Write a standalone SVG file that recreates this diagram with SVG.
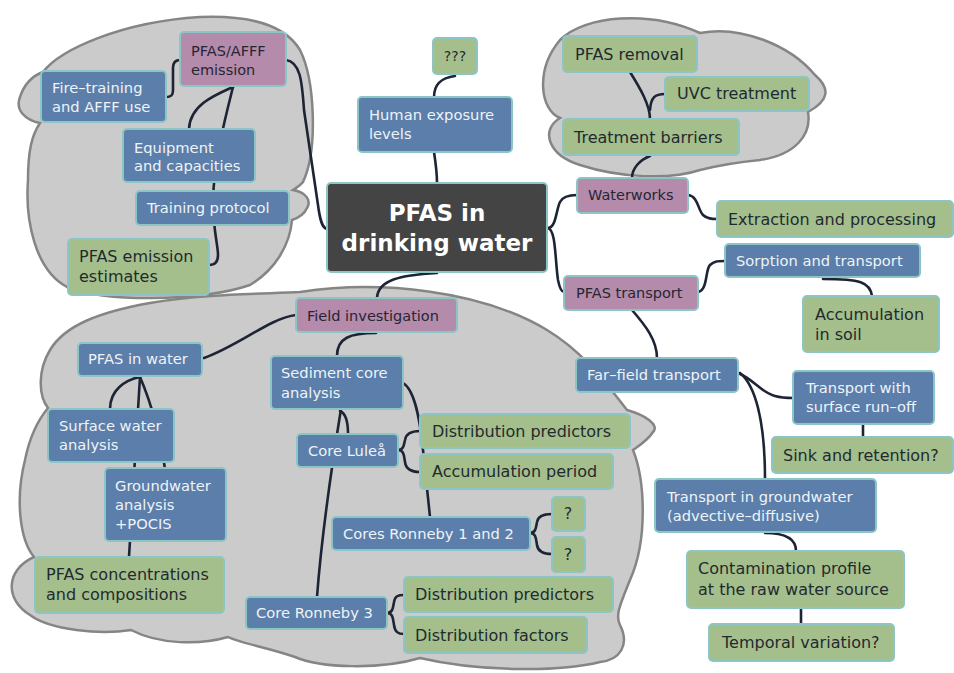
<svg xmlns="http://www.w3.org/2000/svg" width="954" height="673" viewBox="0 0 954 673">
<style>
.cloud{fill:#cbcbcb;stroke:#858585;stroke-width:2.5}
.n rect{stroke:#8cc6c4;stroke-width:2}
.b rect{fill:#5b7eaa}
.g rect{fill:#a5bf8c}
.p rect{fill:#b48bab}
.n text{font-family:"DejaVu Sans",sans-serif}
.b text{fill:#eef3f8;font-size:14.7px}
.g text{fill:#1f2a30;font-size:16px}
.p text{fill:#262633;font-size:14.5px}
.c text{fill:#ffffff;font-size:23px;font-weight:bold;font-family:"DejaVu Sans",sans-serif}
#connectors path{fill:none;stroke:#1d2535;stroke-width:2.6;stroke-linecap:round}
</style>
<rect width="954" height="673" fill="#ffffff"/>
<g id="clouds">
<path class="cloud" d="M43,72 C60,50 120,22 200,17 C250,15 285,25 300,50 C315,80 318,150 303,182 C300,186 296,188 293,190 C305,192 312,200 307,208 C304,215 298,218 292,220 C290,245 275,270 250,285 C200,302 100,302 67,287 C35,270 25,220 28,180 C28,150 32,135 40,123 C25,120 15,110 20,97 C24,85 32,76 43,72 Z"/>
<path class="cloud" d="M560,118 C540,110 535,70 560,40 C585,15 650,10 700,33 C740,25 790,45 815,75 C830,88 830,100 808,112 C812,135 795,155 760,160 C740,162 720,165 700,170 C670,180 620,178 580,165 C548,155 540,130 560,118 Z"/>
<path class="cloud" d="M48,408 C38,395 38,370 50,350 C65,325 100,312 150,303 C200,294 260,294 300,292 C380,280 480,290 547,330 C580,350 600,375 627,410 C645,415 660,425 653,432 C648,440 640,445 633,450 C645,480 648,540 630,580 C620,605 615,615 620,625 C630,645 620,660 600,662 C560,672 480,672 420,658 C380,670 320,668 295,657 C270,648 240,643 228,637 C200,645 160,645 131,630 C100,635 50,630 30,615 C5,600 5,570 34,557 C20,540 15,500 25,460 C30,435 38,420 48,408 Z"/>
</g>
<g id="connectors">
<path d="M286,60 C300,62 302,80 304,110 L318,205 C320,220 322,228 327,229"/>
<path d="M166,97 C174,97 173,92 173,85 L173,68 C173,62 176,60 180,60"/>
<path d="M233,87 C215,95 190,105 189,129"/>
<path d="M233,87 C226,115 214,160 213,200"/>
<path d="M213,200 C213,230 218,245 218,255 C218,263 214,265 209,265"/>
<path d="M434,152 C436,165 437,175 437,183"/>
<path d="M455,76 C440,78 434,85 434,97"/>
<path d="M548,228 C556,228 556,210 560,202 C563,196 570,195 577,195"/>
<path d="M548,228 C556,230 555,260 558,280 C560,290 562,292 564,292"/>
<path d="M632,178 C632,168 640,160 650,156"/>
<path d="M650,119 C650,105 640,88 630,72"/>
<path d="M665,94 C655,94 651,97 650,110"/>
<path d="M688,195 C698,196 698,210 703,215 C707,219 712,219 717,219"/>
<path d="M698,292 C708,290 705,270 710,265 C714,261 718,261 725,261"/>
<path d="M823,279 C860,279 870,282 872,296"/>
<path d="M632,310 C645,325 657,340 657,358"/>
<path d="M738,373 C755,380 760,392 775,396 C782,398 788,398 793,398"/>
<path d="M740,373 C755,385 765,420 765,479"/>
<path d="M863,424 L863,437"/>
<path d="M765,533 C785,533 796,538 796,551"/>
<path d="M801,608 L801,624"/>
<path d="M437,273 C400,275 378,280 377,298"/>
<path d="M296,315 C270,318 240,345 204,358"/>
<path d="M140,377 C125,380 110,390 110,409"/>
<path d="M140,377 C137,420 134,470 129,557"/>
<path d="M140,377 C150,400 162,440 165,470"/>
<path d="M376,333 C350,333 337,338 337,356"/>
<path d="M340,411 C345,413 348,420 348,434"/>
<path d="M341,409 C336,440 322,530 317,597"/>
<path d="M403,383 C415,390 420,420 423,450 L430,517"/>
<path d="M398,450 C404,450 404,444 405,440 C406,433 412,431 420,431"/>
<path d="M398,450 C404,450 404,456 405,462 C406,470 412,472 420,472"/>
<path d="M530,533 C536,533 536,527 537,522 C538,516 544,514 552,514"/>
<path d="M530,533 C536,533 536,539 537,545 C538,552 544,554 552,554"/>
<path d="M387,613 C393,613 393,607 394,602 C395,596 398,595 404,595"/>
<path d="M387,613 C393,613 393,619 394,625 C395,632 398,634 404,634"/>
</g>
<g id="n-center" class="c"><rect x="327" y="183" width="220" height="89" rx="4" fill="#444444" stroke="#8cc6c4" stroke-width="2"/><text x="437" y="221" text-anchor="middle">PFAS in</text><text x="437" y="251" text-anchor="middle">drinking water</text></g>
<g id="n-emission" class="n p"><rect x="180" y="32" width="106" height="54" rx="4"/><text x="191" y="56">PFAS/AFFF</text><text x="191" y="75">emission</text></g>
<g id="n-firetraining" class="n b"><rect x="41" y="71" width="125" height="51" rx="4"/><text x="52" y="93">Fire–training</text><text x="52" y="112">and AFFF use</text></g>
<g id="n-equipment" class="n b"><rect x="123" y="129" width="132" height="53" rx="4"/><text x="134" y="153">Equipment</text><text x="134" y="171">and capacities</text></g>
<g id="n-training" class="n b"><rect x="136" y="191" width="153" height="34" rx="4"/><text x="147" y="213">Training protocol</text></g>
<g id="n-estimates" class="n g"><rect x="68" y="239" width="141" height="56" rx="4"/><text x="79" y="262">PFAS emission</text><text x="79" y="282">estimates</text></g>
<g id="n-qqq" class="n g"><rect x="433" y="38" width="44" height="36" rx="4"/><text x="455" y="61" text-anchor="middle" style="font-size:14px">???</text></g>
<g id="n-human" class="n b"><rect x="358" y="97" width="154" height="55" rx="4"/><text x="369" y="120">Human exposure</text><text x="369" y="139">levels</text></g>
<g id="n-removal" class="n g"><rect x="563" y="36" width="134" height="36" rx="4"/><text x="575" y="60">PFAS removal</text></g>
<g id="n-uvc" class="n g"><rect x="665" y="77" width="144" height="34" rx="4"/><text x="677" y="99">UVC treatment</text></g>
<g id="n-barriers" class="n g"><rect x="563" y="119" width="176" height="36" rx="4"/><text x="574" y="143">Treatment barriers</text></g>
<g id="n-waterworks" class="n p"><rect x="577" y="178" width="111" height="35" rx="4"/><text x="588" y="200">Waterworks</text></g>
<g id="n-extraction" class="n g"><rect x="717" y="201" width="236" height="36" rx="4"/><text x="728" y="225">Extraction and processing</text></g>
<g id="n-sorption" class="n b"><rect x="725" y="244" width="195" height="33" rx="4"/><text x="736" y="266">Sorption and transport</text></g>
<g id="n-transport" class="n p"><rect x="564" y="276" width="134" height="34" rx="4"/><text x="576" y="298">PFAS transport</text></g>
<g id="n-soil" class="n g"><rect x="803" y="296" width="136" height="56" rx="4"/><text x="815" y="320">Accumulation</text><text x="815" y="340">in soil</text></g>
<g id="n-field" class="n p"><rect x="296" y="298" width="161" height="34" rx="4"/><text x="307" y="321">Field investigation</text></g>
<g id="n-water" class="n b"><rect x="78" y="343" width="124" height="33" rx="4"/><text x="88" y="364">PFAS in water</text></g>
<g id="n-surface" class="n b"><rect x="48" y="409" width="126" height="53" rx="4"/><text x="59" y="431">Surface water</text><text x="59" y="450">analysis</text></g>
<g id="n-groundwater" class="n b"><rect x="105" y="468" width="121" height="73" rx="4"/><text x="115" y="491">Groundwater</text><text x="115" y="510">analysis</text><text x="115" y="529">+POCIS</text></g>
<g id="n-concentrations" class="n g"><rect x="35" y="557" width="189" height="56" rx="4"/><text x="46" y="580">PFAS concentrations</text><text x="46" y="600">and compositions</text></g>
<g id="n-sediment" class="n b"><rect x="271" y="356" width="132" height="53" rx="4"/><text x="281" y="378">Sediment core</text><text x="281" y="398">analysis</text></g>
<g id="n-lulea" class="n b"><rect x="297" y="434" width="101" height="33" rx="4"/><text x="308" y="456">Core Luleå</text></g>
<g id="n-pred1" class="n g"><rect x="420" y="414" width="210" height="34" rx="4"/><text x="432" y="437">Distribution predictors</text></g>
<g id="n-accum" class="n g"><rect x="420" y="454" width="193" height="35" rx="4"/><text x="432" y="477">Accumulation period</text></g>
<g id="n-ronneby12" class="n b"><rect x="332" y="517" width="198" height="33" rx="4"/><text x="343" y="539">Cores Ronneby 1 and 2</text></g>
<g id="n-q1" class="n g"><rect x="552" y="497" width="33" height="34" rx="4"/><text x="568" y="519" text-anchor="middle">?</text></g>
<g id="n-q2" class="n g"><rect x="552" y="537" width="33" height="35" rx="4"/><text x="568" y="560" text-anchor="middle">?</text></g>
<g id="n-ronneby3" class="n b"><rect x="246" y="597" width="141" height="32" rx="4"/><text x="256" y="618">Core Ronneby 3</text></g>
<g id="n-pred2" class="n g"><rect x="404" y="577" width="209" height="35" rx="4"/><text x="415" y="600">Distribution predictors</text></g>
<g id="n-factors" class="n g"><rect x="404" y="617" width="183" height="36" rx="4"/><text x="415" y="641">Distribution factors</text></g>
<g id="n-farfield" class="n b"><rect x="576" y="358" width="162" height="34" rx="4"/><text x="587" y="380">Far–field transport</text></g>
<g id="n-runoff" class="n b"><rect x="793" y="371" width="141" height="53" rx="4"/><text x="806" y="393">Transport with</text><text x="806" y="412">surface run–off</text></g>
<g id="n-sink" class="n g"><rect x="772" y="437" width="181" height="36" rx="4"/><text x="783" y="461">Sink and retention?</text></g>
<g id="n-gw" class="n b"><rect x="655" y="479" width="221" height="53" rx="4"/><text x="667" y="502">Transport in groundwater</text><text x="667" y="521">(advective–diffusive)</text></g>
<g id="n-profile" class="n g"><rect x="687" y="551" width="217" height="57" rx="4"/><text x="698" y="574">Contamination profile</text><text x="698" y="595">at the raw water source</text></g>
<g id="n-temporal" class="n g"><rect x="709" y="624" width="185" height="37" rx="4"/><text x="722" y="648">Temporal variation?</text></g>
</svg>
